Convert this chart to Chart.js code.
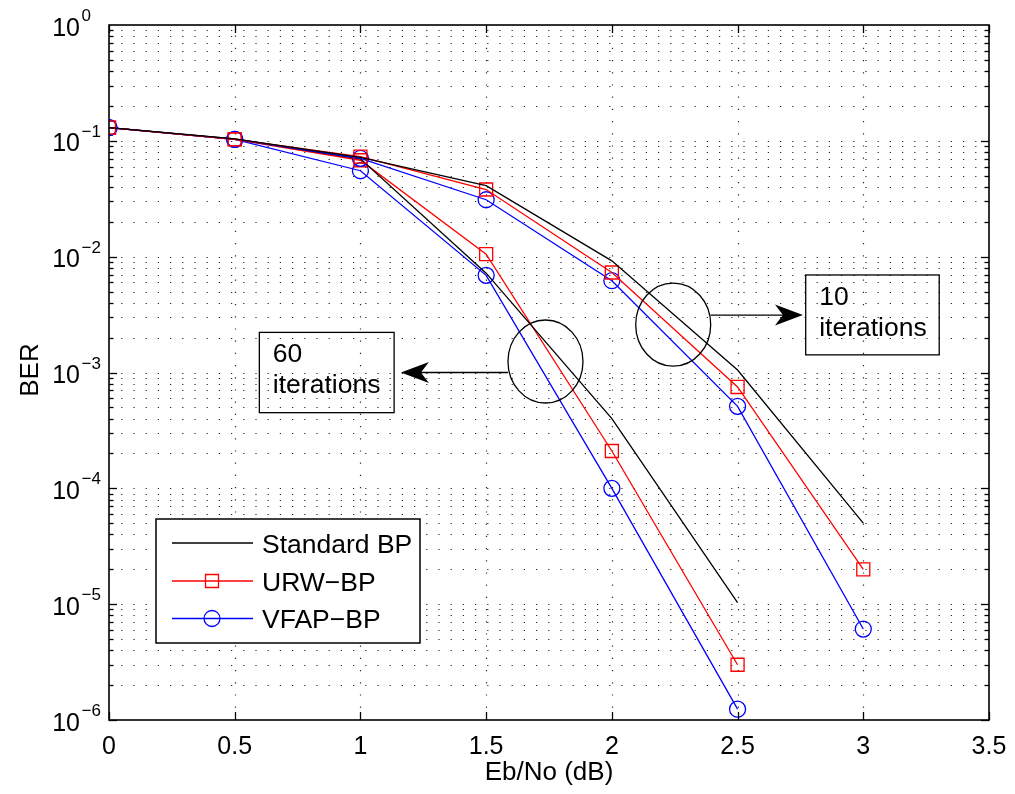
<!DOCTYPE html>
<html>
<head>
<meta charset="utf-8">
<title>BER vs Eb/No</title>
<script src="https://cdn.jsdelivr.net/npm/chart.js@4.4.1/dist/chart.umd.min.js"></script>
<style>
  html, body { margin: 0; padding: 0; background: #fff; }
  #wrap { width: 1015px; height: 794px; }
</style>
</head>
<body>
<div id="wrap"><canvas id="ber-chart" width="1015" height="794"></canvas></div>
<script>
// Eb/No points (dB) for the two iteration counts
const ebNo10 = [0, 0.5, 1, 1.5, 2, 2.5, 3];
const ebNo60 = [0, 0.5, 1, 1.5, 2, 2.5];

// BER, 10 iterations
const stdBp10 = [0.13, 0.104, 0.072, 0.041, 0.0092, 0.00105, 5.0e-5];
const urwBp10 = [0.13, 0.103, 0.073, 0.038, 0.0073, 0.00075, 2.0e-5];
const vfapBp10 = [0.13, 0.103, 0.0707, 0.031, 0.0062, 0.00051, 6.1e-6];

// BER, 60 iterations
const stdBp60 = [0.13, 0.104, 0.07, 0.0072, 0.0004, 1.03e-5];
const urwBp60 = [0.13, 0.103, 0.068, 0.0105, 0.00021, 3.0e-6];
const vfapBp60 = [0.13, 0.103, 0.0552, 0.0069, 0.0001, 1.24e-6];

const seriesNames = ['Standard BP', 'URW\u2212BP', 'VFAP\u2212BP'];

// axes
const xTicks = [0, 0.5, 1, 1.5, 2, 2.5, 3, 3.5];
const xTickLabels = ['0', '0.5', '1', '1.5', '2', '2.5', '3', '3.5'];
const yExponents = [0, -1, -2, -3, -4, -5, -6];
const yMinorSteps = [2, 3, 4, 5, 6, 7, 8, 9];

// annotations (data coordinates)
const noteEllipses = [
  { x: 1.736, y: 1.244e-3 },
  { x: 2.244, y: 2.59e-3 },
];
const noteArrows = [
  { from: 1.587, to: 1.161, y: 1.0e-3 },
  { from: 2.393, to: 2.760, y: 3.13e-3 },
];
const noteBoxes = [
  { x0: 0.598, x1: 1.134, yTop: 2.22e-3, yBottom: 4.5e-4, text: ['60', 'iterations'] },
  { x0: 2.771, x1: 3.302, yTop: 6.95e-3, yBottom: 1.42e-3, text: ['10', 'iterations'] },
];

const FONT = '"Liberation Sans", Arial, Helvetica, sans-serif';

function pts(xs, ys) {
  return xs.map((x, i) => ({ x, y: ys[i] }));
}

function makeSet(label, xs, ys, color, style) {
  return {
    label,
    data: pts(xs, ys),
    borderColor: color,
    backgroundColor: 'rgba(0,0,0,0)',
    borderWidth: 1.3,
    tension: 0,
    pointStyle: style || 'circle',
    pointRadius: style === 'rect' ? 9.2 : style === 'circle' ? 8 : 0,
    pointHoverRadius: 0,
    pointBorderColor: color,
    pointBackgroundColor: 'rgba(0,0,0,0)',
    pointBorderWidth: 1.3,
  };
}

function strokeLine(ctx, x1, y1, x2, y2) {
  ctx.beginPath();
  ctx.moveTo(x1, y1);
  ctx.lineTo(x2, y2);
  ctx.stroke();
}

function yGridValues() {
  const vals = [];
  yExponents.forEach((e) => {
    if (e === 0) return;
    vals.push({ v: Math.pow(10, e), major: true });
    yMinorSteps.forEach((m) => vals.push({ v: m * Math.pow(10, e), major: false }));
  });
  return vals;
}

const matlabAxes = {
  id: 'matlabAxes',
  beforeDatasetsDraw(chart) {
    const { ctx, chartArea: a, scales: { x, y } } = chart;
    ctx.save();
    ctx.strokeStyle = 'rgba(0,0,0,0.85)';
    ctx.lineWidth = 1.2;
    ctx.setLineDash([1.2, 11]);
    yGridValues().forEach((g) => {
      const py = Math.round(y.getPixelForValue(g.v)) + 0.5;
      if (py > a.bottom - 1) return;
      strokeLine(ctx, a.left, py, a.right, py);
    });
    xTicks.slice(1, -1).forEach((v) => {
      const px = Math.round(x.getPixelForValue(v)) + 0.5;
      strokeLine(ctx, px, a.bottom, px, a.top);
    });
    ctx.restore();
  },
  afterDatasetsDraw(chart) {
    const { ctx, chartArea: a, scales: { x, y } } = chart;
    ctx.save();
    ctx.strokeStyle = '#000';
    ctx.fillStyle = '#000';

    // tick marks, inside, on all four sides
    ctx.lineWidth = 1.3;
    yGridValues().forEach((g) => {
      const py = Math.round(y.getPixelForValue(g.v)) + 0.5;
      const len = g.major ? 8 : 4.5;
      strokeLine(ctx, a.left, py, a.left + len, py);
      strokeLine(ctx, a.right, py, a.right - len, py);
    });
    xTicks.forEach((v) => {
      const px = Math.round(x.getPixelForValue(v)) + 0.5;
      strokeLine(ctx, px, a.bottom, px, a.bottom - 8);
      strokeLine(ctx, px, a.top, px, a.top + 8);
    });

    // axes box
    ctx.lineWidth = 1.6;
    ctx.strokeRect(a.left, a.top, a.right - a.left, a.bottom - a.top);

    // tick labels
    ctx.font = '25px ' + FONT;
    ctx.textAlign = 'center';
    ctx.textBaseline = 'alphabetic';
    xTicks.forEach((v, i) => {
      ctx.fillText(xTickLabels[i], x.getPixelForValue(v), a.bottom + 33.5);
    });
    yExponents.forEach((e) => {
      const py = y.getPixelForValue(Math.pow(10, e));
      ctx.font = '25px ' + FONT;
      ctx.textAlign = 'right';
      ctx.fillText('10', 80, py + 10.5);
      ctx.font = '17px ' + FONT;
      ctx.textAlign = 'left';
      ctx.fillText(e === 0 ? '0' : '\u2212' + Math.abs(e), 81.5, py - 4);
    });

    // axis titles
    ctx.font = '26px ' + FONT;
    ctx.textAlign = 'center';
    ctx.fillText('Eb/No (dB)', (a.left + a.right) / 2, 780);
    ctx.save();
    ctx.translate(38, 370);
    ctx.rotate(-Math.PI / 2);
    ctx.fillText('BER', 0, 0);
    ctx.restore();

    // annotations
    ctx.lineWidth = 1.3;
    noteEllipses.forEach((n) => {
      ctx.beginPath();
      ctx.ellipse(x.getPixelForValue(n.x), y.getPixelForValue(n.y), 37.5, 41.5, 0, 0, Math.PI * 2);
      ctx.stroke();
    });
    noteArrows.forEach((n) => {
      const x0 = x.getPixelForValue(n.from);
      const x1 = x.getPixelForValue(n.to);
      const py = y.getPixelForValue(n.y);
      const d = Math.sign(x1 - x0);
      strokeLine(ctx, x0, py, x1 - d * 20, py);
      ctx.beginPath();
      ctx.moveTo(x1, py);
      ctx.lineTo(x1 - d * 28, py - 10.5);
      ctx.lineTo(x1 - d * 20, py);
      ctx.lineTo(x1 - d * 28, py + 10.5);
      ctx.closePath();
      ctx.fill();
    });
    noteBoxes.forEach((n) => {
      const l = x.getPixelForValue(n.x0);
      const r = x.getPixelForValue(n.x1);
      const t = y.getPixelForValue(n.yTop);
      const b = y.getPixelForValue(n.yBottom);
      ctx.strokeRect(l, t, r - l, b - t);
      ctx.font = '26.5px ' + FONT;
      ctx.textAlign = 'left';
      ctx.fillText(n.text[0], l + 13.5, t + 30);
      ctx.fillText(n.text[1], l + 13.5, t + 61);
    });

    // legend
    const lg = { left: 156, top: 519, right: 420, bottom: 643 };
    ctx.fillStyle = '#fff';
    ctx.fillRect(lg.left, lg.top, lg.right - lg.left, lg.bottom - lg.top);
    ctx.strokeStyle = '#000';
    ctx.lineWidth = 1.5;
    ctx.strokeRect(lg.left, lg.top, lg.right - lg.left, lg.bottom - lg.top);
    const rowsY = [543, 581, 618.5];
    chart.data.datasets.slice(0, 3).forEach((ds, i) => {
      const ry = rowsY[i];
      ctx.strokeStyle = ds.borderColor;
      ctx.lineWidth = 1.3;
      strokeLine(ctx, 172, ry, 253, ry);
      if (ds.pointRadius > 0) {
        ctx.beginPath();
        if (ds.pointStyle === 'rect') {
          ctx.rect(212 - 6.5, ry - 6.5, 13, 13);
        } else {
          ctx.arc(212, ry, 8, 0, Math.PI * 2);
        }
        ctx.stroke();
      }
      ctx.fillStyle = '#000';
      ctx.font = '26.5px ' + FONT;
      ctx.textAlign = 'left';
      ctx.fillText(ds.label, 262, ry + 9.5);
    });
    ctx.restore();
  },
};

const ctx = document.getElementById('ber-chart').getContext('2d');
new Chart(ctx, {
  type: 'line',
  data: {
    datasets: [
      makeSet(seriesNames[0], ebNo10, stdBp10, '#000000', null),
      makeSet(seriesNames[1], ebNo10, urwBp10, '#ff0000', 'rect'),
      makeSet(seriesNames[2], ebNo10, vfapBp10, '#0000ff', 'circle'),
      makeSet(seriesNames[0], ebNo60, stdBp60, '#000000', null),
      makeSet(seriesNames[1], ebNo60, urwBp60, '#ff0000', 'rect'),
      makeSet(seriesNames[2], ebNo60, vfapBp60, '#0000ff', 'circle'),
    ],
  },
  options: {
    responsive: false,
    animation: false,
    devicePixelRatio: 1,
    layout: { padding: { left: 109, top: 25, right: 26, bottom: 74 } },
    plugins: {
      legend: { display: false },
      tooltip: { enabled: false },
    },
    scales: {
      x: { type: 'linear', min: 0, max: 3.5, display: false },
      y: { type: 'logarithmic', min: 1e-6, max: 1, display: false },
    },
  },
  plugins: [matlabAxes],
});
</script>
</body>
</html>
